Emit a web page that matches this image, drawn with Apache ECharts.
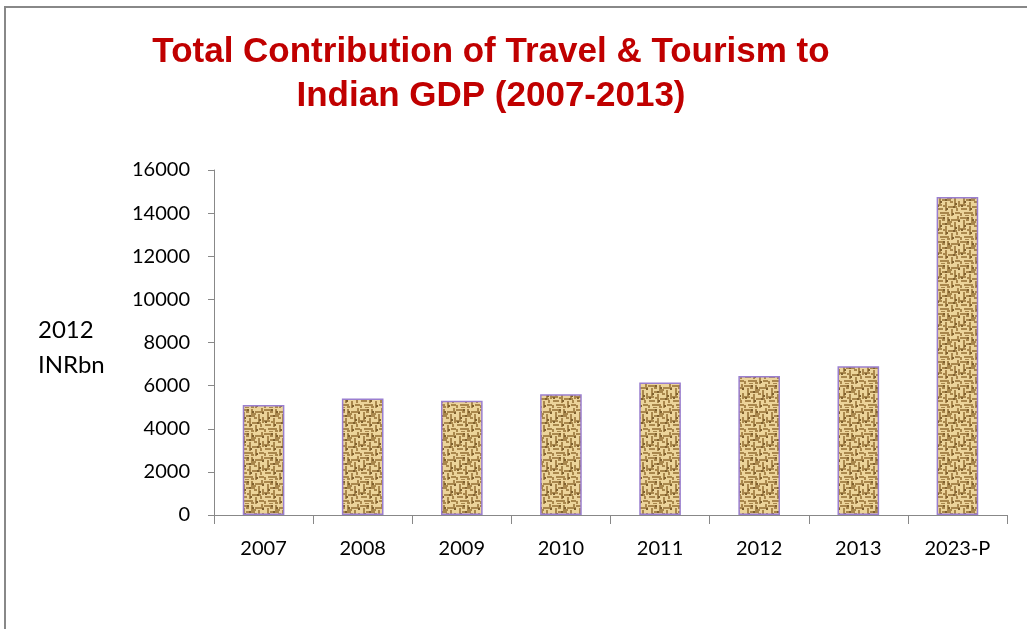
<!DOCTYPE html>
<html>
<head>
<meta charset="utf-8">
<script src="https://cdn.jsdelivr.net/npm/echarts@6/dist/echarts.min.js"></script>
<style>
  html, body { margin: 0; padding: 0; background: #fff; }
  #chart { width: 1027px; height: 629px; }
</style>
</head>
<body>
<div id="chart"></div>
<script>
// Total contribution of travel & tourism to Indian GDP, 2012 INR bn
const categories = ['2007', '2008', '2009', '2010', '2011', '2012', '2013', '2023-P'];
const contribution = [5100, 5400, 5300, 5600, 6150, 6450, 6900, 14750];
const yTicks = [0, 2000, 4000, 6000, 8000, 10000, 12000, 14000, 16000];

// Woven burlap-like fill for the bars: straw base with brown maze strokes
function makeWeave() {
  const c = document.createElement('canvas');
  c.width = 24; c.height = 24;
  const g = c.getContext('2d');
  g.fillStyle = '#ecd49a';
  g.fillRect(0, 0, 24, 24);
  g.fillStyle = '#a9874c';
  const segs = [
    [0,1,9,2],[11,1,2,8],[15,3,9,2],[3,4,2,8],[6,7,9,2],[18,6,2,8],
    [0,12,6,2],[9,10,2,9],[12,14,9,2],[1,16,6,2],[15,17,2,7],[4,20,9,2],
    [19,20,5,2],[21,0,2,4],[0,21,2,3],[7,13,2,2],[13,5,3,2],[22,9,2,6],
    [6,3,3,2],[14,9,3,2],[20,16,2,3],[11,22,3,2],[5,23,4,1]
  ];
  segs.forEach(s => g.fillRect(s[0], s[1], s[2], s[3]));
  g.fillStyle = '#80612f';
  [[7,1],[12,3],[4,9],[19,11],[10,16],[16,21],[1,13],[22,4],[9,7],[17,14]].forEach(p => g.fillRect(p[0], p[1], 2, 2));
  return c;
}

const chart = echarts.init(document.getElementById('chart'));
chart.setOption({
  animation: false,
  backgroundColor: '#fff',
  graphic: [
    { type: 'line', shape: { x1: 4, y1: 7, x2: 1027, y2: 7 }, style: { stroke: '#888', lineWidth: 2 } },
    { type: 'line', shape: { x1: 5, y1: 6, x2: 5, y2: 629 }, style: { stroke: '#888', lineWidth: 2 } },
    { type: 'text', left: 38, top: 313,
      style: { text: '2012\nINRbn', font: '24px Lato, "Open Sans", sans-serif', fill: '#000', lineHeight: 35 } }
  ],
  title: {
    text: 'Total Contribution of Travel & Tourism to\nIndian GDP (2007-2013)',
    left: 486, top: 25, textAlign: 'center',
    textStyle: { color: '#c00000', fontSize: 35, fontWeight: 'bold',
      fontFamily: '"Liberation Sans", Arial, sans-serif', lineHeight: 44 }
  },
  grid: { left: 214, right: 20, top: 170, bottom: 114, containLabel: false },
  xAxis: {
    type: 'category',
    data: categories,
    axisLine: { lineStyle: { color: '#888', width: 1 } },
    axisTick: { show: true, length: 9, lineStyle: { color: '#888' } },
    axisLabel: { color: '#000', fontSize: 20, margin: 24, fontFamily: 'Lato, "Open Sans", sans-serif' }
  },
  yAxis: {
    type: 'value',
    min: 0, max: 16000, interval: 2000,
    axisLine: { show: true, lineStyle: { color: '#888', width: 1 } },
    axisTick: { show: true, length: 6, lineStyle: { color: '#888' } },
    splitLine: { show: false },
    axisLabel: { color: '#000', fontSize: 20, margin: 24, fontFamily: 'Lato, "Open Sans", sans-serif',
      formatter: v => yTicks.includes(v) ? String(v) : '' }
  },
  series: [{
    type: 'bar',
    data: contribution,
    barWidth: '42%',
    barCategoryGap: '58%',
    itemStyle: {
      color: { image: makeWeave(), repeat: 'repeat' },
      borderColor: '#9a7fd0',
      borderWidth: 1.5
    }
  }]
});
</script>
</body>
</html>
